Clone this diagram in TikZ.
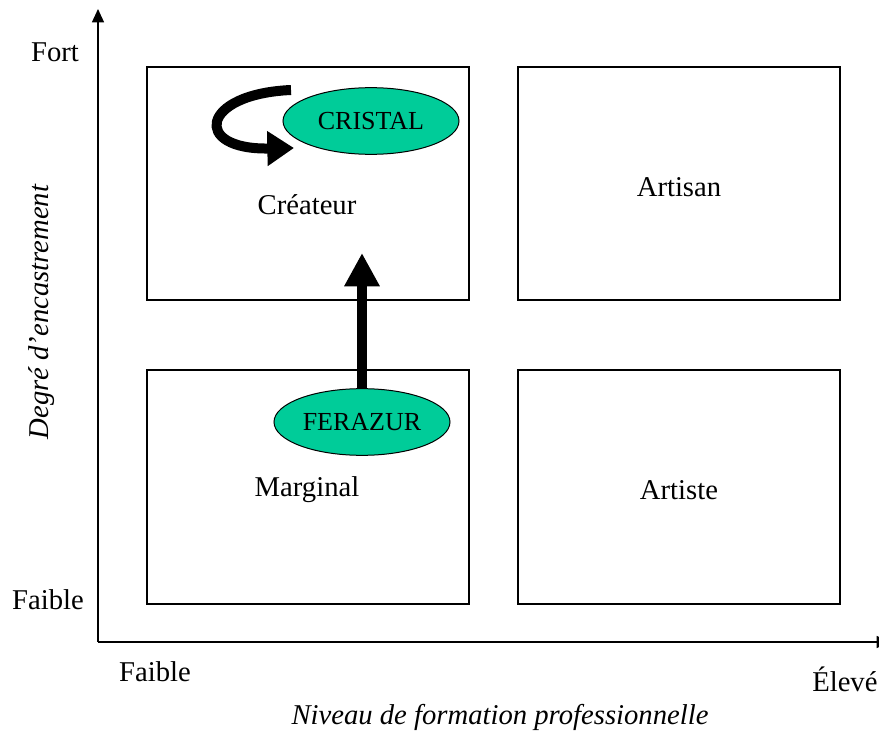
\documentclass[tikz,border=0pt]{standalone}
\usepackage{fontspec}
\setmainfont{Liberation Serif}
\usepackage{xcolor}
\usetikzlibrary{shapes.geometric,arrows.meta}

\definecolor{vertjade}{RGB}{0,204,153}

\tikzset{
  quadrant/.style={draw=black,line width=0.9pt},
  firme/.style={ellipse,draw=black,fill=vertjade,line width=0.75pt,minimum width=132pt,minimum height=50pt,inner sep=0pt,font=\fontsize{19.5}{22}\selectfont},
  etiquette/.style={inner sep=0.75pt,font=\fontsize{21.5}{25}\selectfont},
  axe/.style={line width=0.9pt,-{Triangle[width=9pt,length=10pt]}},
  fleche/.style={line width=7.5pt,-{Triangle[width=25pt,length=25pt]}}
}

\begin{document}
\begin{tikzpicture}[x=0.75pt,y=0.75pt,yscale=-1,xscale=1]
\useasboundingbox (0,0) rectangle (879,731);

%Axes
\coordinate (origine) at (98,642);
\coordinate (haut) at (98,9);
\coordinate (droite) at (890,642);
\draw [axe] (origine) -- (haut) ;
\draw [axe] (origine) -- (droite) ;

%Shape: Rectangle (quadrants)
\draw [quadrant] (147,67) rectangle (469,300) ;
\draw [quadrant] (518,67) rectangle (840,300) ;
\draw [quadrant] (147,370) rectangle (469,604) ;
\draw [quadrant] (518,370) rectangle (840,604) ;

% Text Node
\node [etiquette] (createur) at (307,205) {Créateur};
\node [etiquette] (artisan) at (679,187) {Artisan};
\node [etiquette] (marginal) at (307,490) {Marginal};
\node [etiquette] (artiste) at (679,490) {Artiste};

%Shape: Ellipse
\node [firme] (cristal) at (371,121) {CRISTAL};
\node [firme] (ferazur) at (362,422) {FERAZUR};

%Straight Lines
\coordinate (cible) at (362,253);
\draw [fleche] (ferazur.north) -- (cible) ;

%Curve Lines
\coordinate (depart) at (291,90);
\coordinate (arrivee) at (294,148);
\draw [line width=7.5pt,-{Triangle[width=25pt,length=20pt]}] (depart) .. controls (200,94) and (192,150) .. (arrivee) ;

% Text Node
\node [etiquette] (fort) at (55,52) {Fort};
\node [etiquette] (faibley) at (48,600) {Faible};
\node [etiquette] (faiblex) at (155,672) {Faible};
\node [etiquette,anchor=west] (eleve) at (811,679) {Élevé};
\node [etiquette,font=\fontsize{21.5}{25}\selectfont\itshape] (titrex) at (500,717) {Niveau de formation professionnelle};
\node [etiquette,font=\fontsize{21.5}{25}\selectfont\itshape,rotate=90] (titrey) at (42,312) {Degré d’encastrement};

\end{tikzpicture}
\end{document}
